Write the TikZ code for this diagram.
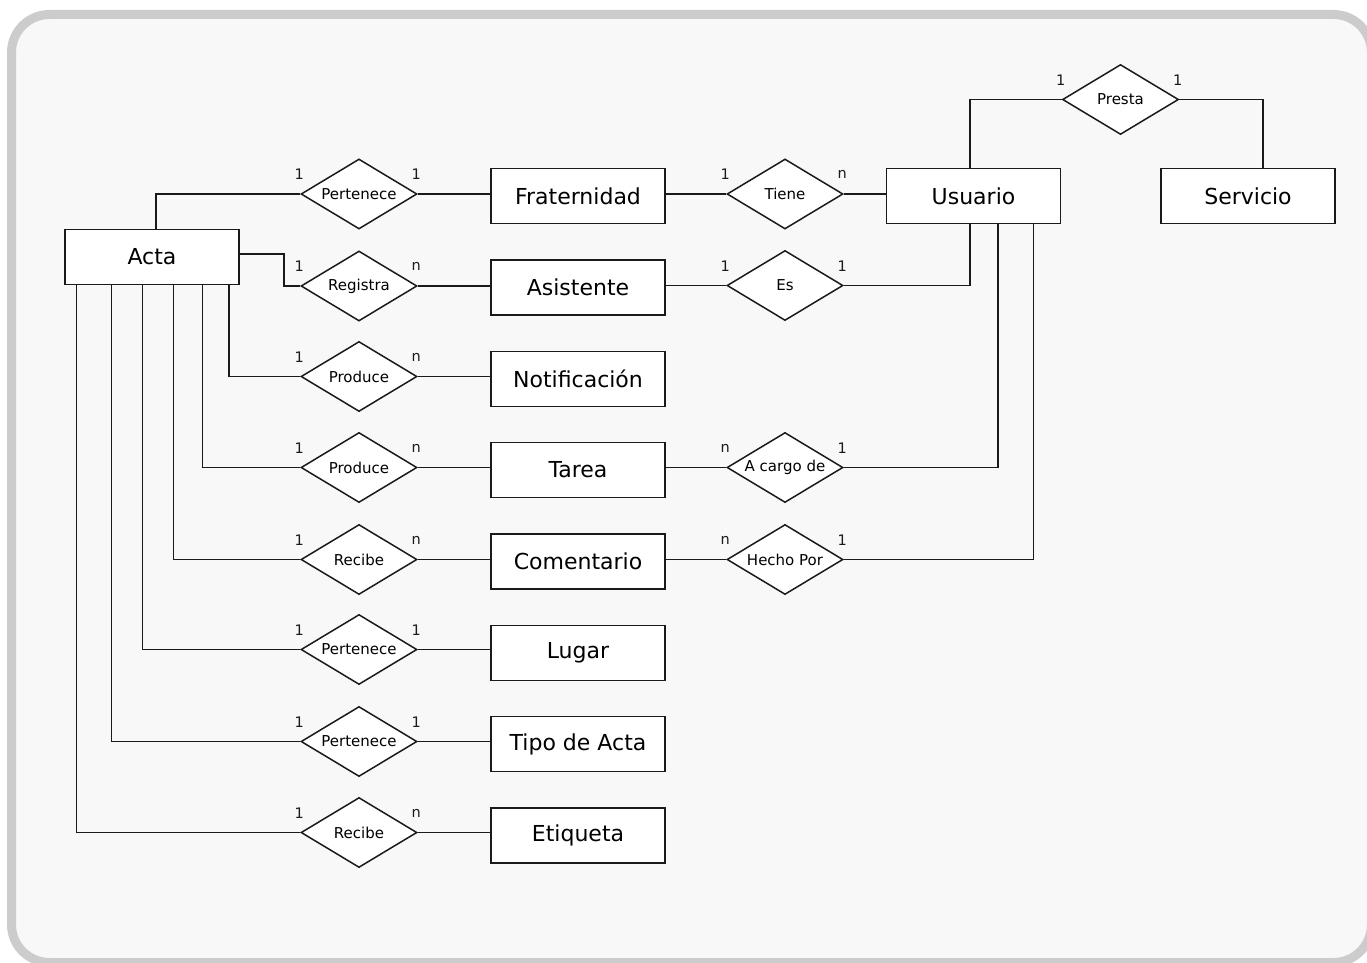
\documentclass[tikz,border=0pt]{standalone}
\usepackage{fontspec}
\setmainfont{DejaVu Sans}
\usetikzlibrary{shapes.geometric}
\definecolor{framegray}{HTML}{CCCCCC}
\definecolor{panel}{HTML}{F8F8F8}
\definecolor{ink}{HTML}{1A1A1A}

\begin{document}
\begin{tikzpicture}[x=1pt,y=-1pt,
  entity/.style={draw=ink, fill=white, line width=1.5pt, minimum width=174pt,
    minimum height=55pt, inner sep=0pt, font=\fontsize{22}{26}\selectfont},
  relation/.style={diamond, aspect=1.657, draw=ink, fill=white, line width=1.5pt,
    minimum width=116pt, minimum height=70pt, inner sep=0pt,
    font=\fontsize{15}{18}\selectfont},
  card/.style={font=\fontsize{14.5}{17}\selectfont, inner sep=0pt, text=ink},
  link/.style={draw=ink, line width=1.5pt}]

% page and panel
\useasboundingbox (0,0) rectangle (1367,963);
\begin{scope}
  \clip (0,0) rectangle (1367,963);
  \fill[white] (0,0) rectangle (1367,963);
  \draw[framegray, fill=panel, line width=9pt, rounded corners=38pt]
    (11.5,14.5) rectangle (1371.5,962.5);
\end{scope}

% entities
\node[entity] (acta)    at (152,257)   {Acta};
\node[entity] (frat)    at (578,196)   {Fraternidad};
\node[entity] (asist)   at (578,287.5) {Asistente};
\node[entity] (notif)   at (578,379)   {Notificación};
\node[entity] (tarea)   at (578,470)   {Tarea};
\node[entity] (coment)  at (578,561.5) {Comentario};
\node[entity] (lugar)   at (578,653)   {Lugar};
\node[entity] (tipo)    at (578,744)   {Tipo de Acta};
\node[entity] (etiq)    at (578,835.5) {Etiqueta};
\node[entity] (usuario) at (973.5,196) {Usuario};
\node[entity] (serv)    at (1248,196)  {Servicio};

% relationships
\node[relation] (rfrat)   at (359,194)   {Pertenece};
\node[relation] (rasist)  at (359,286)   {Registra};
\node[relation] (rnotif)  at (359,376.5) {Produce};
\node[relation] (rtarea)  at (359,467.5) {Produce};
\node[relation] (rcoment) at (359,559.5) {Recibe};
\node[relation] (rlugar)  at (359,649.5) {Pertenece};
\node[relation] (rtipo)   at (359,741.5) {Pertenece};
\node[relation] (retiq)   at (359,832.5) {Recibe};
\node[relation] (rtiene)  at (785,194)   {Tiene};
\node[relation] (res)     at (785,285.5) {Es};
\node[relation] (rcargo)  at (785,467.5) {A cargo de};
\node[relation] (rhecho)  at (785,559.5) {Hecho Por};
\node[relation] (rpresta) at (1120.5,99.5) {Presta};

% connectors from Acta
\draw[link] ([xshift=4pt]acta.north) |- (rfrat.west);
\draw[link] ([yshift=3pt]acta.east) -- ++(44,0) |- (rasist.west);
\draw[link] ([xshift=77pt]acta.south) |- (rnotif.west);
\draw[link] ([xshift=50.5pt]acta.south) |- (rtarea.west);
\draw[link] ([xshift=21.5pt]acta.south) |- (rcoment.west);
\draw[link] ([xshift=-9.5pt]acta.south) |- (rlugar.west);
\draw[link] ([xshift=-40.5pt]acta.south) |- (rtipo.west);
\draw[link] ([xshift=-75.5pt]acta.south) |- (retiq.west);

% relationships to the middle column
\foreach \r/\e in {rfrat/frat, rasist/asist, rnotif/notif, rtarea/tarea,
                   rcoment/coment, rlugar/lugar, rtipo/tipo, retiq/etiq}
  \draw[link] (\r.east) -- (\r.east -| \e.west);

% middle column to Usuario
\draw[link] (rtiene.west) -- (rtiene.west -| frat.east);
\draw[link] (rtiene.east) -- (rtiene.east -| usuario.west);
\draw[link] (res.west) -- (res.west -| asist.east);
\draw[link] (res.east) -| ([xshift=-3.5pt]usuario.south);
\draw[link] (rcargo.west) -- (rcargo.west -| tarea.east);
\draw[link] (rcargo.east) -| ([xshift=24.5pt]usuario.south);
\draw[link] (rhecho.west) -- (rhecho.west -| coment.east);
\draw[link] (rhecho.east) -| ([xshift=60pt]usuario.south);

% Usuario to Servicio
\draw[link] ([xshift=-3.5pt]usuario.north) |- (rpresta.west);
\draw[link] (rpresta.east) -| ([xshift=15pt]serv.north);

% cardinalities
\foreach \r/\a/\b in {rfrat/1/1, rasist/1/n, rnotif/1/n, rtarea/1/n,
                      rcoment/1/n, rlugar/1/1, rtipo/1/1, retiq/1/n,
                      rtiene/1/n, res/1/1, rcargo/n/1, rhecho/n/1, rpresta/1/1}{
  \node[card] (\r-l) at ([xshift=-1pt,yshift=19.5pt]\r.west) {\a};
  \node[card] (\r-r) at ([xshift=-1.5pt,yshift=19.5pt]\r.east) {\b};
}
\end{tikzpicture}
\end{document}
